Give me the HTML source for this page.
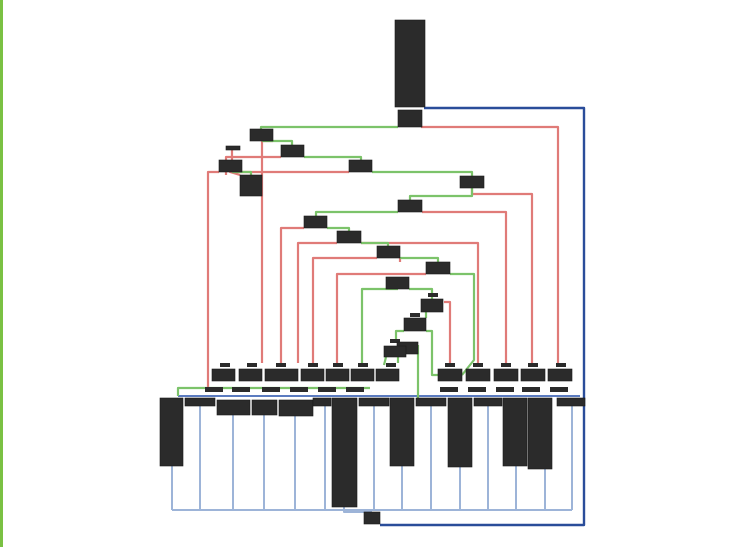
<!DOCTYPE html>
<html><head><meta charset="utf-8"><style>
html,body{margin:0;padding:0;background:#fff;}
#wrap{position:relative;width:744px;height:547px;overflow:hidden;background:#fff;}
#lb{position:absolute;left:0;top:0;width:3px;height:547px;background:#7ac143;}
</style></head><body>
<div id="wrap">
<div id="lb"></div>
<svg id="g" width="744" height="547"></svg>
</div>
<script>
const NS="http://www.w3.org/2000/svg";
const svg=document.getElementById('g');
function mk(t,a){const e=document.createElementNS(NS,t);for(const k in a)e.setAttribute(k,a[k]);svg.appendChild(e);return e;}
function pl(pts,c,w){const e=mk('polyline',{points:pts.map(p=>p.join(',')).join(' '),fill:'none',stroke:c,'stroke-width':w||2.2,'stroke-linejoin':'round'});return e;}
const R='#e07b78',G='#7cc36a',B='#2a4d9a',LB='#9db4d8';
const lbx=[172,200,233,264,295,325,374,402,431,460,488,516,545,572];
lbx.forEach(x=>{const e=pl([[x,406],[x,510]],LB,2);});
{const e=pl([[172,510],[572,510]],LB,2);}
{const e=pl([[344,507],[344,512],[372,512]],LB,2);}
{const e=pl([[178,396],[580,396]],'#5b7bc0',2);}
{const e=pl([[424,108],[584,108],[584,525],[380,525]],B,2.4);}
const reds=[
[[421,127],[558,127],[558,363]],
[[273,141],[262,141],[262,363]],
[[240,148],[232,148],[232,160]],
[[281,157],[226,157],[226,175]],
[[219,172],[208,172],[208,390]],
[[349,172],[230,172],[240,175]],
[[472,188],[472,194],[532,194],[532,363]],
[[422,212],[506,212],[506,363]],
[[304,228],[281,228],[281,363]],
[[361,243],[478,243],[478,363]],
[[337,243],[298,243],[298,363]],
[[377,258],[313,258],[313,363]],
[[400,258],[400,262]],
[[426,274],[337,274],[337,363]],
[[444,302],[450,302],[450,363]],
];
reds.forEach(p=>{const e=pl(p,R);});
const greens=[
[[398,127],[261,127],[261,129]],
[[262,141],[292,141],[292,145]],
[[232,172],[251,172],[251,175]],
[[304,157],[361,157],[361,160]],
[[372,172],[472,172],[472,176]],
[[472,188],[472,196],[410,196],[410,200]],
[[398,212],[316,212],[316,216]],
[[327,228],[349,228],[349,231]],
[[361,243],[388,243],[388,246]],
[[400,258],[438,258],[438,262]],
[[398,289],[362,289],[362,363]],
[[409,289],[432,289],[432,299]],
[[426,302],[426,318]],
[[404,331],[396,331],[396,340]],
[[426,331],[432,331],[432,375],[438,375]],
[[386,357],[384,365]],
[[398,354],[398,363]],
[[418,345],[418,398]],
[[450,274],[474,274],[474,360],[462,375]],
[[178,396],[178,388],[370,388]],
];
greens.forEach(p=>{const e=pl(p,G);});
const blocks=[
[395,20,30,87],[398,110,24,17],[250,129,23,12],[226,146,14,4],[219,160,23,12],[281,145,23,12],
[240,175,22,21],[349,160,23,12],[460,176,24,12],[398,200,24,12],[304,216,23,12],[337,231,24,12],
[377,246,23,12],[426,262,24,12],[386,277,23,12],[421,299,22,13],[404,318,22,13],[397,342,21,12],[384,346,22,11],
[212,369,23,12],[239,369,23,12],[265,369,33,12],[301,369,23,12],[326,369,23,12],[351,369,23,12],[376,369,23,12],
[438,369,24,12],[466,369,24,12],[494,369,24,12],[521,369,24,12],[548,369,24,12],
[160,398,23,68],[185,398,30,8],[217,400,33,15],[252,400,25,15],[279,400,34,16],[313,398,18,8],
[332,398,25,109],[359,398,30,8],[390,398,24,68],[416,398,30,8],[448,398,24,69],[474,398,28,8],
[503,398,24,68],[528,398,24,71],[557,398,28,8],[364,512,16,12]
];
const caps=[[220,363],[247,363],[276,363],[308,363],[333,363],[358,363],[386,363],[445,363],[473,363],[501,363],[528,363],[556,363],[428,293],[410,313],[390,339]];
caps.forEach(c=>{const e=mk('rect',{x:c[0],y:c[1],width:10,height:4,fill:'#2b2b2b'});});
const smalls=[205,232,262,290,318,346,440,468,496,522,550];
smalls.forEach(x=>{const e=mk('rect',{x:x,y:387,width:18,height:5,fill:'#2b2b2b'});});
blocks.forEach(b=>{const e=mk('rect',{x:b[0],y:b[1],width:b[2],height:b[3],fill:'#2b2b2b',stroke:'#1a1a1a','stroke-width':0.6});});
</script>
</body></html>
